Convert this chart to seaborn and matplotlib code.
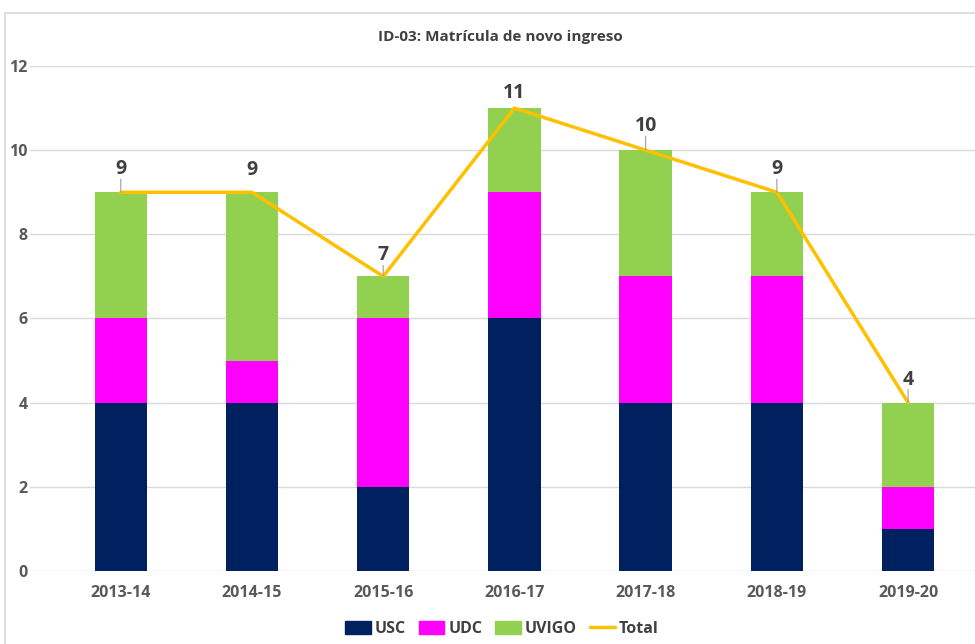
import matplotlib
matplotlib.use("Agg")
import matplotlib.pyplot as plt
import seaborn as sns
import numpy as np
import pandas as pd
from matplotlib.patches import Rectangle, Patch
from matplotlib.lines import Line2D

years = ["2013-14", "2014-15", "2015-16", "2016-17", "2017-18", "2018-19", "2019-20"]
usc = [4, 4, 2, 6, 4, 4, 1]
udc = [2, 1, 4, 3, 3, 3, 1]
uvigo = [3, 4, 1, 2, 3, 2, 2]
total = [9, 9, 7, 11, 10, 9, 4]

C_USC = "#002060"
C_UDC = "#FF00FF"
C_UVIGO = "#92D050"
C_TOT = "#FFC000"

sns.set_theme(style="white")
plt.rcParams['font.family'] = ['Open Sans', 'DejaVu Sans']

df = pd.DataFrame({"year": years, "USC": usc, "UDC": udc, "UVIGO": uvigo, "Total": total})
df["c2"] = df["USC"] + df["UDC"]
df["c3"] = df["c2"] + df["UVIGO"]

fig = plt.figure(figsize=(9.75, 6.44), dpi=100)
ax = fig.add_axes([0.031, 0.1134, 0.969, 0.7841])

fig.patches.append(Rectangle((5/975, -0.01), 1.0, 1 - 13/644 + 0.01, transform=fig.transFigure,
                             fill=False, edgecolor="#D9D9D9", linewidth=1.2))

w = 0.4
sns.barplot(data=df, x="year", y="c3", color=C_UVIGO, width=w, saturation=1, ax=ax, zorder=2)
sns.barplot(data=df, x="year", y="c2", color=C_UDC, width=w, saturation=1, ax=ax, zorder=3)
sns.barplot(data=df, x="year", y="USC", color=C_USC, width=w, saturation=1, ax=ax, zorder=4)
for p in ax.patches:
    p.set_edgecolor("none")

xs = np.arange(len(years))
sns.lineplot(x=xs, y=df["Total"].values, color=C_TOT, linewidth=2.5, ax=ax, zorder=6)

ax.set_xlim(-0.69, 6.51)
ax.set_ylim(0, 12)
ax.set_yticks(range(0, 13, 2))
ax.yaxis.grid(True, color="#D9D9D9", linewidth=1.0, zorder=0)
ax.set_axisbelow(True)
for s in ax.spines.values():
    s.set_visible(False)
ax.set_xlabel("")
ax.set_ylabel("")
ax.tick_params(axis="both", length=0, labelsize=11.5, labelcolor="#595959")
ax.tick_params(axis="x", pad=10)
ax.tick_params(axis="y", pad=2)
ax.set_xticks(xs)
ax.set_xticklabels(years)
for lab in ax.get_xticklabels() + ax.get_yticklabels():
    lab.set_fontweight("bold")

offsets = [23, 22, 21, 15, 24, 23, 23]
leaders = [True, False, True, False, True, True, True]
for i, (x, t) in enumerate(zip(xs, total)):
    off = offsets[i]
    ax.annotate(str(t), (x, t), xytext=(0, off * 0.72), textcoords="offset points",
                ha="center", va="center", fontsize=14, fontweight="bold", color="#404040", zorder=8)
    if leaders[i]:
        ax.annotate("", (x, t), xytext=(0, (off - 10) * 0.72), textcoords="offset points",
                    arrowprops=dict(arrowstyle="-", color="#A6A6A6", lw=0.9, shrinkA=0, shrinkB=0), zorder=7)

fig.text(0.513, 1 - 37/644, "ID-03: Matrícula de novo ingreso", ha="center", va="center",
         fontsize=11, fontweight="bold", color="#404040")

handles = [Patch(color=C_USC, label="USC"), Patch(color=C_UDC, label="UDC"),
           Patch(color=C_UVIGO, label="UVIGO"), Line2D([0], [0], color=C_TOT, lw=2.5, label="Total")]
leg = fig.legend(handles=handles, loc="center", bbox_to_anchor=(0.515, 1 - 629/644), ncol=4,
                 frameon=False, fontsize=11.5, handlelength=1.6, handleheight=0.9,
                 columnspacing=0.8, handletextpad=0.25)
for t in leg.get_texts():
    t.set_fontweight("bold")
    t.set_color("#404040")

fig.savefig("out.png", dpi=100)
